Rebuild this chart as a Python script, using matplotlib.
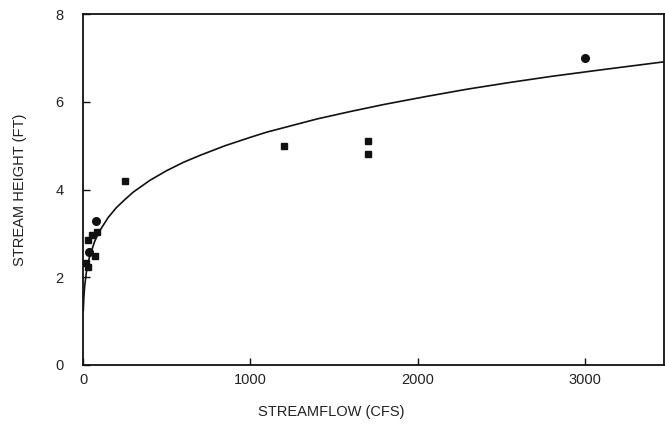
import matplotlib
matplotlib.use("Agg")
import matplotlib.pyplot as plt

plt.rcParams['font.family'] = ['Liberation Sans', 'DejaVu Sans']

# Observed points
circle_x = [3000, 80, 35]
circle_y = [7.0, 3.28, 2.58]
square_x = [1700, 1700, 1200, 250, 82, 55, 30, 70, 30, 20]
square_y = [5.1, 4.8, 5.0, 4.2, 3.03, 2.96, 2.86, 2.48, 2.24, 2.32]

# Rating curve
curve_x = [2, 3, 5, 10, 20, 30, 40, 70, 100, 150, 200, 250, 300, 400, 500,
           600, 700, 850, 1000, 1100, 1200, 1400, 1600, 1800, 2050, 2300,
           2550, 2800, 3100, 3470]
curve_y = [1.24, 1.36, 1.53, 1.80, 2.11, 2.32, 2.48, 2.82, 3.06, 3.36, 3.59,
           3.77, 3.94, 4.21, 4.43, 4.62, 4.78, 5.00, 5.19, 5.31, 5.41, 5.61,
           5.78, 5.94, 6.12, 6.29, 6.44, 6.58, 6.73, 6.91]

x_ticks = [0, 1000, 2000, 3000]
y_ticks = [0, 2, 4, 6, 8]

ink = '#111111'

fig = plt.figure(figsize=(6.65, 4.25), dpi=100)
ax = fig.add_axes([83 / 665, 60 / 425, 581 / 665, 351 / 425])

ax.plot(curve_x, curve_y, color=ink, lw=1.2, solid_capstyle='round',
        solid_joinstyle='round')
ax.plot(square_x, square_y, ls='none', marker='s', ms=5, color=ink)
ax.plot(circle_x, circle_y, ls='none', marker='o', ms=5.5, color=ink)

ax.set_xlim(0, 3470)
ax.set_ylim(0, 8)
ax.set_xticks(x_ticks)
ax.set_yticks(y_ticks)
ax.tick_params(direction='in', length=5, width=1, colors=ink,
               labelsize=10.5, labelcolor='#222222')
ax.tick_params(axis='y', pad=14)
ax.tick_params(axis='x', pad=6)
for s in ax.spines.values():
    s.set_linewidth(1.3)
    s.set_color(ink)

fig.text(331 / 665, 1 - 412 / 425, 'STREAMFLOW (CFS)', ha='center', va='center',
         fontsize=10.5, color='#222222')
fig.text(20 / 665, 1 - 190 / 425, 'STREAM HEIGHT (FT)', ha='center', va='center',
         rotation=90, fontsize=10.5, color='#222222')

fig.savefig('out.png', dpi=100)
